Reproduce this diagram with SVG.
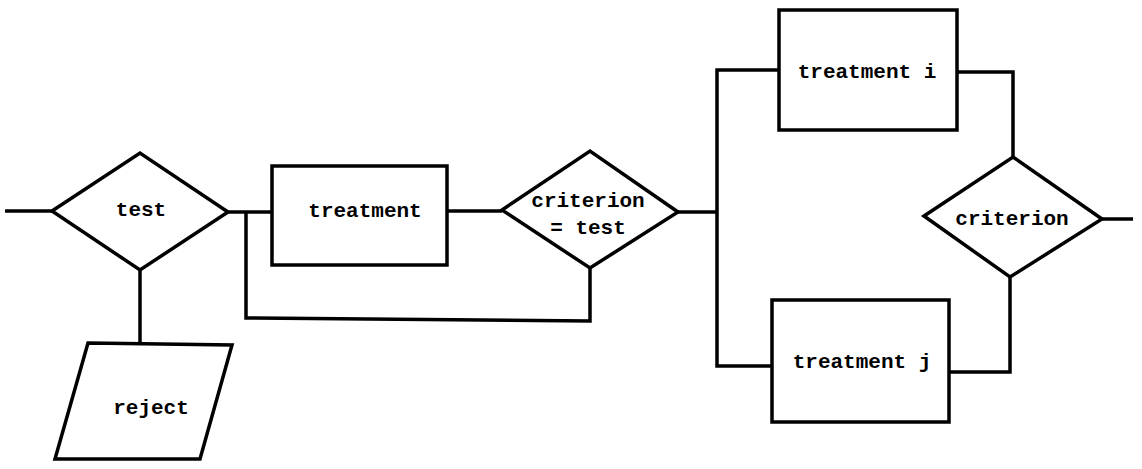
<svg xmlns="http://www.w3.org/2000/svg" width="1142" height="469" viewBox="0 0 1142 469">
<style>
.s{fill:#fff;stroke:#000;stroke-width:3.5;stroke-linejoin:miter}
.c{fill:none;stroke:#000;stroke-width:3.5}
text{font-family:"Liberation Mono","DejaVu Sans Mono",monospace;font-weight:bold;font-size:21px;fill:#000;text-anchor:middle;dominant-baseline:central}
</style>
<rect width="1142" height="469" fill="#fff"/>
<g id="connectors">
<path class="c" d="M5,211 H52"/>
<path class="c" d="M228,212 H272"/>
<path class="c" d="M246,212 V318 L590,321 V268"/>
<path class="c" d="M140,270 V344"/>
<path class="c" d="M447,211 H502"/>
<path class="c" d="M678,212 H717"/>
<path class="c" d="M779,70 H717 V366 H772"/>
<path class="c" d="M957,72 H1013 V157"/>
<path class="c" d="M1010,277 V372 H949"/>
<path class="c" d="M1102,219 H1133"/>
</g>
<g id="test">
<polygon class="s" points="52,211 140,153 228,212 140,270"/>
<text x="141" y="210">test</text>
</g>
<g id="reject">
<polygon class="s" points="88,343 232,345 200,459 55,459"/>
<text x="151" y="408">reject</text>
</g>
<g id="treatment">
<rect class="s" x="272" y="166" width="175" height="99"/>
<text x="365" y="211">treatment</text>
</g>
<g id="criterion-test">
<polygon class="s" points="502,210 590,151 678,212 590,268"/>
<text x="588" y="201">criterion</text>
<text x="588" y="228">= test</text>
</g>
<g id="treatment-i">
<rect class="s" x="779" y="10" width="178" height="120"/>
<text x="867" y="72">treatment i</text>
</g>
<g id="treatment-j">
<rect class="s" x="772" y="300" width="177" height="122"/>
<text x="862" y="362">treatment j</text>
</g>
<g id="criterion">
<polygon class="s" points="924,216 1013,157 1102,219 1010,277"/>
<text x="1012" y="219">criterion</text>
</g>
</svg>
